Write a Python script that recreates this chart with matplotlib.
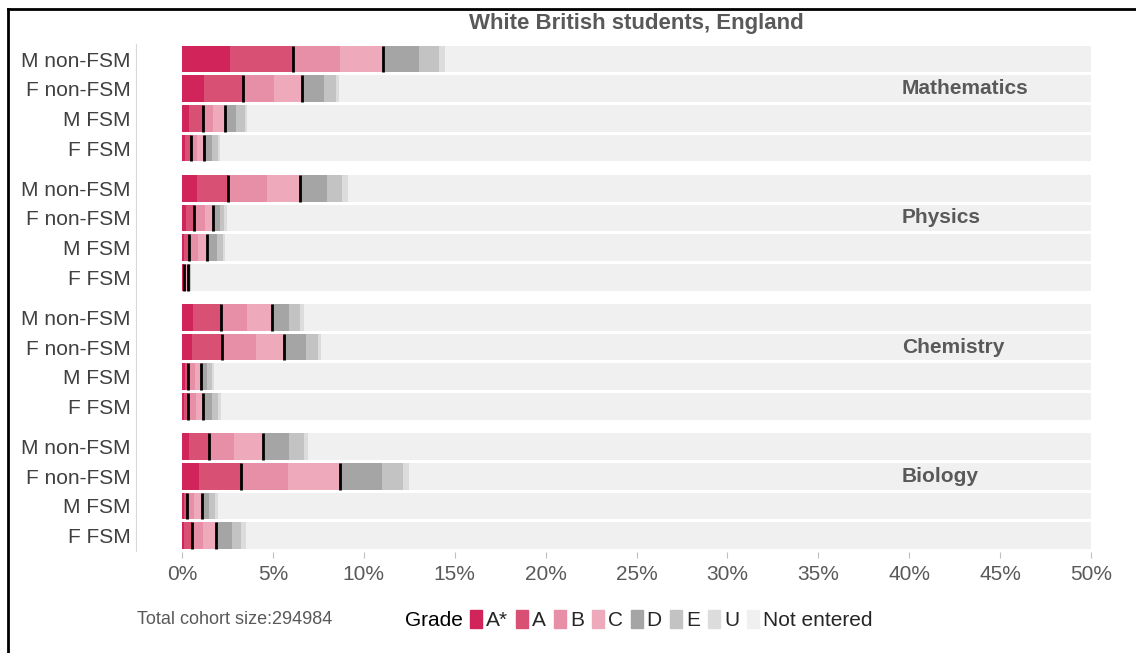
import matplotlib
matplotlib.use("Agg")
import matplotlib.pyplot as plt
from matplotlib.patches import Rectangle
from matplotlib.lines import Line2D
import numpy as np

plt.rcParams['font.family'] = ['Liberation Sans', 'DejaVu Sans']

# data: percentage of cohort achieving each grade
subjects = ['Mathematics', 'Physics', 'Chemistry', 'Biology']
groups = ['M non-FSM', 'F non-FSM', 'M FSM', 'F FSM']
grades = ['A*', 'A', 'B', 'C', 'D', 'E', 'U']
total_cohort = 294984

maths = [[2.64, 3.48, 2.57, 2.35, 2.01, 1.10, 0.30],
         [1.23, 2.14, 1.69, 1.52, 1.23, 0.66, 0.17],
         [0.40, 0.74, 0.58, 0.65, 0.58, 0.52, 0.13],
         [0.17, 0.31, 0.33, 0.42, 0.40, 0.33, 0.13]]
physics = [[0.81, 1.74, 2.11, 1.83, 1.47, 0.82, 0.33],
           [0.22, 0.46, 0.59, 0.45, 0.37, 0.24, 0.13],
           [0.11, 0.28, 0.51, 0.49, 0.52, 0.33, 0.13],
           [0.05, 0.06, 0.10, 0.13, 0.08, 0.06, 0.04]]
chemistry = [[0.59, 1.54, 1.43, 1.37, 0.96, 0.60, 0.22],
             [0.55, 1.67, 1.85, 1.54, 1.19, 0.66, 0.17],
             [0.14, 0.18, 0.40, 0.31, 0.33, 0.27, 0.13],
             [0.12, 0.21, 0.44, 0.40, 0.50, 0.33, 0.13]]
biology = [[0.40, 1.09, 1.37, 1.61, 1.42, 0.82, 0.20],
           [0.95, 2.28, 2.62, 2.84, 2.29, 1.20, 0.33],
           [0.10, 0.19, 0.37, 0.42, 0.41, 0.33, 0.14],
           [0.11, 0.42, 0.61, 0.73, 0.90, 0.48, 0.25]]
values = [maths, physics, chemistry, biology]

colors = ['#d0245a', '#d95075', '#e78fa6', '#eea9bb',
          '#a5a5a5', '#c3c3c3', '#dcdcdc']
bg_color = '#f0f0f0'
text_gray = '#595959'

fig = plt.figure(figsize=(11.36, 6.53), dpi=100)
ax = fig.add_axes([182 / 1136, 1 - 552 / 653, 909 / 1136, 512 / 653])

group_step = 4.35
bar_h = 0.9
ypos, ylabels = [], []
for g, subj in enumerate(subjects):
    data = np.array(values[g])
    for r, grp in enumerate(groups):
        y = g * group_step + r
        ypos.append(y)
        ylabels.append(grp)
        ax.barh(y, 50, height=bar_h, color=bg_color, linewidth=0)
        left = 0.0
        for k in range(len(grades)):
            ax.barh(y, data[r, k], left=left, height=bar_h,
                    color=colors[k], linewidth=0)
            left += data[r, k]
        cum = np.cumsum(data[r])
        # black markers at A*-A and A*-C
        ax.vlines([cum[1], cum[3]], y - bar_h / 2, y + bar_h / 2,
                  color='black', linewidth=2)
    ax.text(39.6, g * group_step + 1, subj, ha='left', va='center',
            fontsize=15, fontweight='bold', color=text_gray)

ax.set_xlim(0, 50)
ax.set_ylim(16.6, -0.64)
ax.set_yticks(ypos)
ax.set_yticklabels(ylabels)
ax.set_xticks(np.arange(0, 51, 5))
ax.set_xticklabels(['%d%%' % v for v in range(0, 51, 5)])
ax.tick_params(axis='y', length=0, labelsize=15, labelcolor='#404040', pad=4)
ax.tick_params(axis='x', length=4, color='#bfbfbf', labelsize=15,
               labelcolor=text_gray, pad=5)
for s in ['top', 'right', 'bottom']:
    ax.spines[s].set_visible(False)
ax.spines['left'].set_position(('outward', 33))
ax.spines['left'].set_color('#d9d9d9')
ax.spines['left'].set_bounds(-0.5, 16.55)
ax.set_facecolor('white')

fig.text(636 / 1136, 1 - 23 / 653, 'White British students, England',
         ha='center', va='center', fontsize=16, fontweight='bold',
         color=text_gray)
fig.text(137 / 1136, 1 - 620 / 653, 'Total cohort size:%d' % total_cohort,
         ha='left', va='center', fontsize=13, color=text_gray)

# legend drawn by hand in pixel units
renderer = fig.canvas.get_renderer()
x = 405
yc = 619
t = fig.text(x / 1136, 1 - (yc + 1) / 653, 'Grade', ha='left', va='center',
             fontsize=15, color='black')
x += t.get_window_extent(renderer).width + 7
for lab, col in zip(grades + ['Not entered'], colors + [bg_color]):
    fig.patches.append(Rectangle((x / 1136, 1 - (yc + 9) / 653),
                                 12 / 1136, 18 / 653, color=col,
                                 transform=fig.transFigure, figure=fig))
    x += 16
    t = fig.text(x / 1136, 1 - (yc + 1) / 653, lab, ha='left', va='center',
                 fontsize=15, color='#262626')
    x += t.get_window_extent(renderer).width + 8

# frame edges (top and left only)
fig.add_artist(Line2D([8 / 1136, 1], [1 - 9 / 653, 1 - 9 / 653],
                      color='black', linewidth=2, transform=fig.transFigure))
fig.add_artist(Line2D([8 / 1136, 8 / 1136], [0, 1 - 9 / 653],
                      color='black', linewidth=2, transform=fig.transFigure))

fig.savefig('out.png', dpi=100)
